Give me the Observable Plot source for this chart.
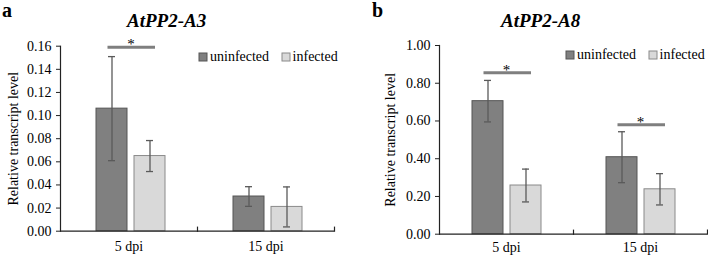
<!DOCTYPE html>
<html><head><meta charset="utf-8">
<script src="https://cdn.jsdelivr.net/npm/d3@7"></script>
<script src="https://cdn.jsdelivr.net/npm/@observablehq/plot@0.6"></script>
<style>
body{margin:0;background:#fff;}
#wrap{display:flex;width:708px;height:257px;}
.panel{position:relative;width:354px;height:257px;overflow:visible;}
.panel > svg{position:absolute;left:0;top:0;overflow:visible;}
.letter{position:absolute;font-family:"Liberation Serif",serif;font-weight:bold;font-size:20px;line-height:20px;white-space:nowrap;}
.title{position:absolute;font-family:"Liberation Serif",serif;font-weight:bold;font-style:italic;font-size:19px;line-height:19px;white-space:nowrap;}
.lgwrap{position:absolute;width:max-content;white-space:nowrap;}
.lg-swatches{min-height:0;margin:0;font-family:"Liberation Serif",serif;font-size:14px;line-height:16px;color:#000;flex-wrap:nowrap !important;}
.lg-swatch{margin-right:12.5px;}
.lg-swatch > svg{margin-right:3px;}
.lg-swatch:nth-of-type(1) rect{stroke:#555;stroke-width:1;}
.lg-swatch:nth-of-type(2) rect{stroke:#8a8a8a;stroke-width:1;}
</style></head>
<body><div id="wrap"></div>
<script>
// ---- data ----
const dpi = ["5 dpi", "15 dpi"];
const series = ["uninfected", "infected"];

// Panel a: AtPP2-A3
const a3Uninfected = [0.106, 0.030];
const a3Infected = [0.065, 0.021];
const a3UninfectedErr = [0.045, 0.0085];
const a3InfectedErr = [0.0134, 0.0173];
const a3Signif = [0.159, null];
const a3Ticks = [0, 0.02, 0.04, 0.06, 0.08, 0.10, 0.12, 0.14, 0.16];

// Panel b: AtPP2-A8
const a8Uninfected = [0.705, 0.408];
const a8Infected = [0.258, 0.238];
const a8UninfectedErr = [0.11, 0.135];
const a8InfectedErr = [0.087, 0.083];
const a8Signif = [0.855, 0.58];
const a8Ticks = [0, 0.2, 0.4, 0.6, 0.8, 1.0];

// ---- styles ----
const FILL = {uninfected: "#808080", infected: "#d9d9d9"};
const EDGE = {uninfected: "#555555", infected: "#8a8a8a"};
const AXIS = "#222";
const FONT = "'Liberation Serif', 'Times New Roman', serif";

function rowsOf(unin, inf, uninErr, infErr) {
  const out = [];
  dpi.forEach((d, i) => {
    out.push({dpi: d, series: "uninfected", value: unin[i], err: uninErr[i]});
    out.push({dpi: d, series: "infected", value: inf[i], err: infErr[i]});
  });
  return out;
}

function makePanel(cfg) {
  const rows = rowsOf(cfg.unin, cfg.inf, cfg.uninErr, cfg.infErr);
  const sig = dpi.map((d, i) => ({dpi: d, y: cfg.sig[i], from: series[0], to: series[1]})).filter(d => d.y != null);
  const H = 257;
  const innerH = H - cfg.mt - cfg.mb;
  const chart = Plot.plot({
    width: 354, height: H,
    marginLeft: cfg.ml, marginRight: cfg.mr, marginTop: cfg.mt, marginBottom: cfg.mb,
    style: `font-family: ${FONT}; font-size: 14px; color: #000; background: transparent; overflow: visible;`,
    fx: {domain: dpi, padding: 0, label: null, axis: null},
    x: {domain: series, paddingInner: 0.19, paddingOuter: cfg.po, align: cfg.align, axis: null},
    y: {domain: [0, cfg.ymax], axis: null},
    marks: [
      Plot.axisY({ticks: cfg.ticks, tickFormat: d3.format(".2f"), tickSize: 4, tickPadding: 5, stroke: AXIS,
        label: "Relative transcript level", labelAnchor: "center", labelArrow: "none", labelOffset: cfg.labelOffset, fontSize: 14}),
      Plot.axisFx({anchor: "bottom", tickSize: 0, tickPadding: cfg.xpad, label: null, fontSize: 14}),
      Plot.barY(rows, {fx: "dpi", x: "series", y: "value", fill: d => FILL[d.series], stroke: d => EDGE[d.series], strokeWidth: 1}),
      Plot.ruleX(rows, {fx: "dpi", x: "series", y1: d => d.value - d.err, y2: d => d.value + d.err, stroke: "#5a5a5a", strokeWidth: 1.3}),
      Plot.tickY(rows, {fx: "dpi", x: "series", y: d => d.value - d.err, insetLeft: 12, insetRight: 12, stroke: "#5a5a5a", strokeWidth: 1.3}),
      Plot.tickY(rows, {fx: "dpi", x: "series", y: d => d.value + d.err, insetLeft: 12, insetRight: 12, stroke: "#5a5a5a", strokeWidth: 1.3}),
      Plot.ruleY([0], {stroke: AXIS, strokeWidth: 1.2}),
      Plot.frame({anchor: "left", facetAnchor: "left", stroke: AXIS, strokeWidth: 1.2}),
      Plot.frame({anchor: "right", insetTop: innerH - 4, stroke: AXIS, strokeWidth: 1.2}),
      Plot.ruleY(sig, {fx: "dpi", y: "y", x1: "from", x2: "to", insetLeft: 11.5, insetRight: 10, stroke: "#7f7f7f", strokeWidth: 3}),
      Plot.text(sig, {fx: "dpi", y: "y", text: d => "*", lineAnchor: "bottom", dy: 2, dx: cfg.starDx, fontSize: 15, fill: "#000"})
    ]
  });
  const panel = document.createElement("div");
  panel.className = "panel";
  panel.appendChild(chart);
  const letter = document.createElement("div");
  letter.className = "letter"; letter.textContent = cfg.letter;
  letter.style.left = cfg.letterX + "px"; letter.style.top = "0px";
  panel.appendChild(letter);
  const title = document.createElement("div");
  title.className = "title"; title.textContent = cfg.title;
  title.style.left = cfg.titleX + "px"; title.style.top = "11px";
  panel.appendChild(title);
  const lg = Plot.legend({color: {domain: series, range: series.map(s => FILL[s])}, legend: "swatches", swatchSize: 8, className: "lg"});
  const lgWrap = document.createElement("div");
  lgWrap.className = "lgwrap";
  lgWrap.style.left = cfg.legendX + "px"; lgWrap.style.top = cfg.legendY + "px";
  lgWrap.appendChild(lg);
  panel.appendChild(lgWrap);
  return panel;
}

const wrap = document.getElementById("wrap");
wrap.appendChild(makePanel({
  letter: "a", letterX: 2, title: "AtPP2-A3", titleX: 127,
  unin: a3Uninfected, inf: a3Infected, uninErr: a3UninfectedErr, infErr: a3InfectedErr, sig: a3Signif,
  ticks: a3Ticks, ymax: 0.16, mt: 45.7, mb: 26.3, ml: 60, mr: 20, po: 0.88, align: 0.53,
  labelOffset: 52, xpad: 10, starDx: 2, legendX: 199, legendY: 49
}));
wrap.appendChild(makePanel({
  letter: "b", letterX: 18, title: "AtPP2-A8", titleX: 147,
  unin: a8Uninfected, inf: a8Infected, uninErr: a8UninfectedErr, infErr: a8InfectedErr, sig: a8Signif,
  ticks: a8Ticks, ymax: 1.0, mt: 45, mb: 23.3, ml: 84, mr: 1, po: 0.84, align: 0.5,
  labelOffset: 54, xpad: 8, starDx: 0, legendX: 212, legendY: 47
}));
</script>
</body></html>
